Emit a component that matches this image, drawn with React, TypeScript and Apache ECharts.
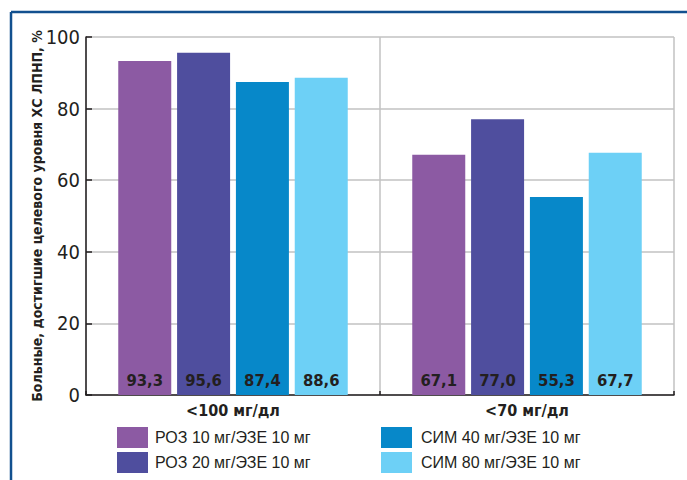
import React, { useEffect, useRef } from "react";
import * as echarts from "echarts";

const categories = ["<100 мг/дл", "<70 мг/дл"];
const seriesNames = [
  "РОЗ 10 мг/ЭЗЕ 10 мг",
  "РОЗ 20 мг/ЭЗЕ 10 мг",
  "СИМ 40 мг/ЭЗЕ 10 мг",
  "СИМ 80 мг/ЭЗЕ 10 мг",
];
const roz10 = [93.3, 67.1];
const roz20 = [95.6, 77.0];
const sim40 = [87.4, 55.3];
const sim80 = [88.6, 67.7];
const seriesValues = [roz10, roz20, sim40, sim80];
const colors = ["#8c5aa3", "#4f4e9e", "#0788c9", "#6dd0f6"];
const yTicks = [0, 20, 40, 60, 80, 100];

const narrow = "'DejaVu Sans Condensed', 'Liberation Sans Narrow', sans-serif";
const regular = "'Liberation Sans', Arial, sans-serif";
const dark = "#231f20";

export default function App() {
  const ref = useRef<HTMLDivElement>(null);
  useEffect(() => {
    const chart = echarts.init(ref.current!, null, { renderer: "svg" });
    chart.setOption({
      animation: false,
      backgroundColor: "#ffffff",
      grid: { left: 86, right: 13, top: 37, bottom: 85, containLabel: false },
      xAxis: {
        type: "category",
        data: categories,
        axisLine: { show: true, lineStyle: { color: dark, width: 1.5 } },
        axisTick: { show: true, inside: true, length: 4, lineStyle: { color: dark, width: 1.5 } },
        axisLabel: {
          color: dark,
          fontFamily: narrow,
          fontWeight: "bold",
          fontSize: 16,
          margin: 7,
        },
        splitLine: { show: true, lineStyle: { color: "#c2c2c2", width: 1.5 } },
      },
      yAxis: {
        type: "value",
        min: yTicks[0],
        max: yTicks[yTicks.length - 1],
        interval: 20,
        name: "Больные, достигшие целевого уровня ХС ЛПНП, %",
        nameLocation: "middle",
        nameGap: 42,
        nameMoveOverlap: false,
        nameTextStyle: {
          color: dark,
          fontFamily: narrow,
          fontWeight: "bold",
          fontSize: 14,
        },
        axisLine: { show: true, lineStyle: { color: dark, width: 1.5 } },
        axisTick: { show: true, inside: true, length: 6, lineStyle: { color: dark, width: 1.5 } },
        axisLabel: { color: dark, fontFamily: narrow, fontSize: 20, margin: 6 },
        splitLine: { show: true, lineStyle: { color: "#c2c2c2", width: 1.5 } },
      },
      legend: [
        {
          left: 117,
          top: 427,
          padding: 0,
          orient: "vertical",
          itemWidth: 31,
          itemHeight: 21,
          itemGap: 4,
          icon: "rect",
          data: seriesNames.slice(0, 2),
          textStyle: { color: dark, fontFamily: regular, fontSize: 16, padding: [0, 0, 0, 2] },
        },
        {
          left: 381,
          top: 427,
          padding: 0,
          orient: "vertical",
          itemWidth: 31,
          itemHeight: 21,
          itemGap: 4,
          icon: "rect",
          data: seriesNames.slice(2, 4),
          textStyle: { color: dark, fontFamily: regular, fontSize: 16, padding: [0, 0, 0, 4] },
        },
      ],
      series: seriesNames.map((name, i) => ({
        name,
        type: "bar",
        data: seriesValues[i],
        barWidth: 53,
        barGap: "11%",
        itemStyle: { color: colors[i] },
        label: {
          show: true,
          position: "insideBottom",
          distance: 6,
          color: dark,
          fontFamily: narrow,
          fontWeight: "bold",
          fontSize: 16.5,
          formatter: (p: any) => p.value.toFixed(1).replace(".", ","),
        },
      })),
      graphic: [
        {
          type: "line",
          shape: { x1: 11, y1: 12, x2: 687, y2: 12 },
          style: { stroke: "#12508f", lineWidth: 2.5 },
        },
        {
          type: "line",
          shape: { x1: 11, y1: 12, x2: 11, y2: 480 },
          style: { stroke: "#12508f", lineWidth: 2.5 },
        },
      ],
    });
    return () => chart.dispose();
  }, []);
  return (
    <div
      ref={ref}
      style={{ position: "fixed", left: 0, top: 0, width: 687, height: 480 }}
    />
  );
}
